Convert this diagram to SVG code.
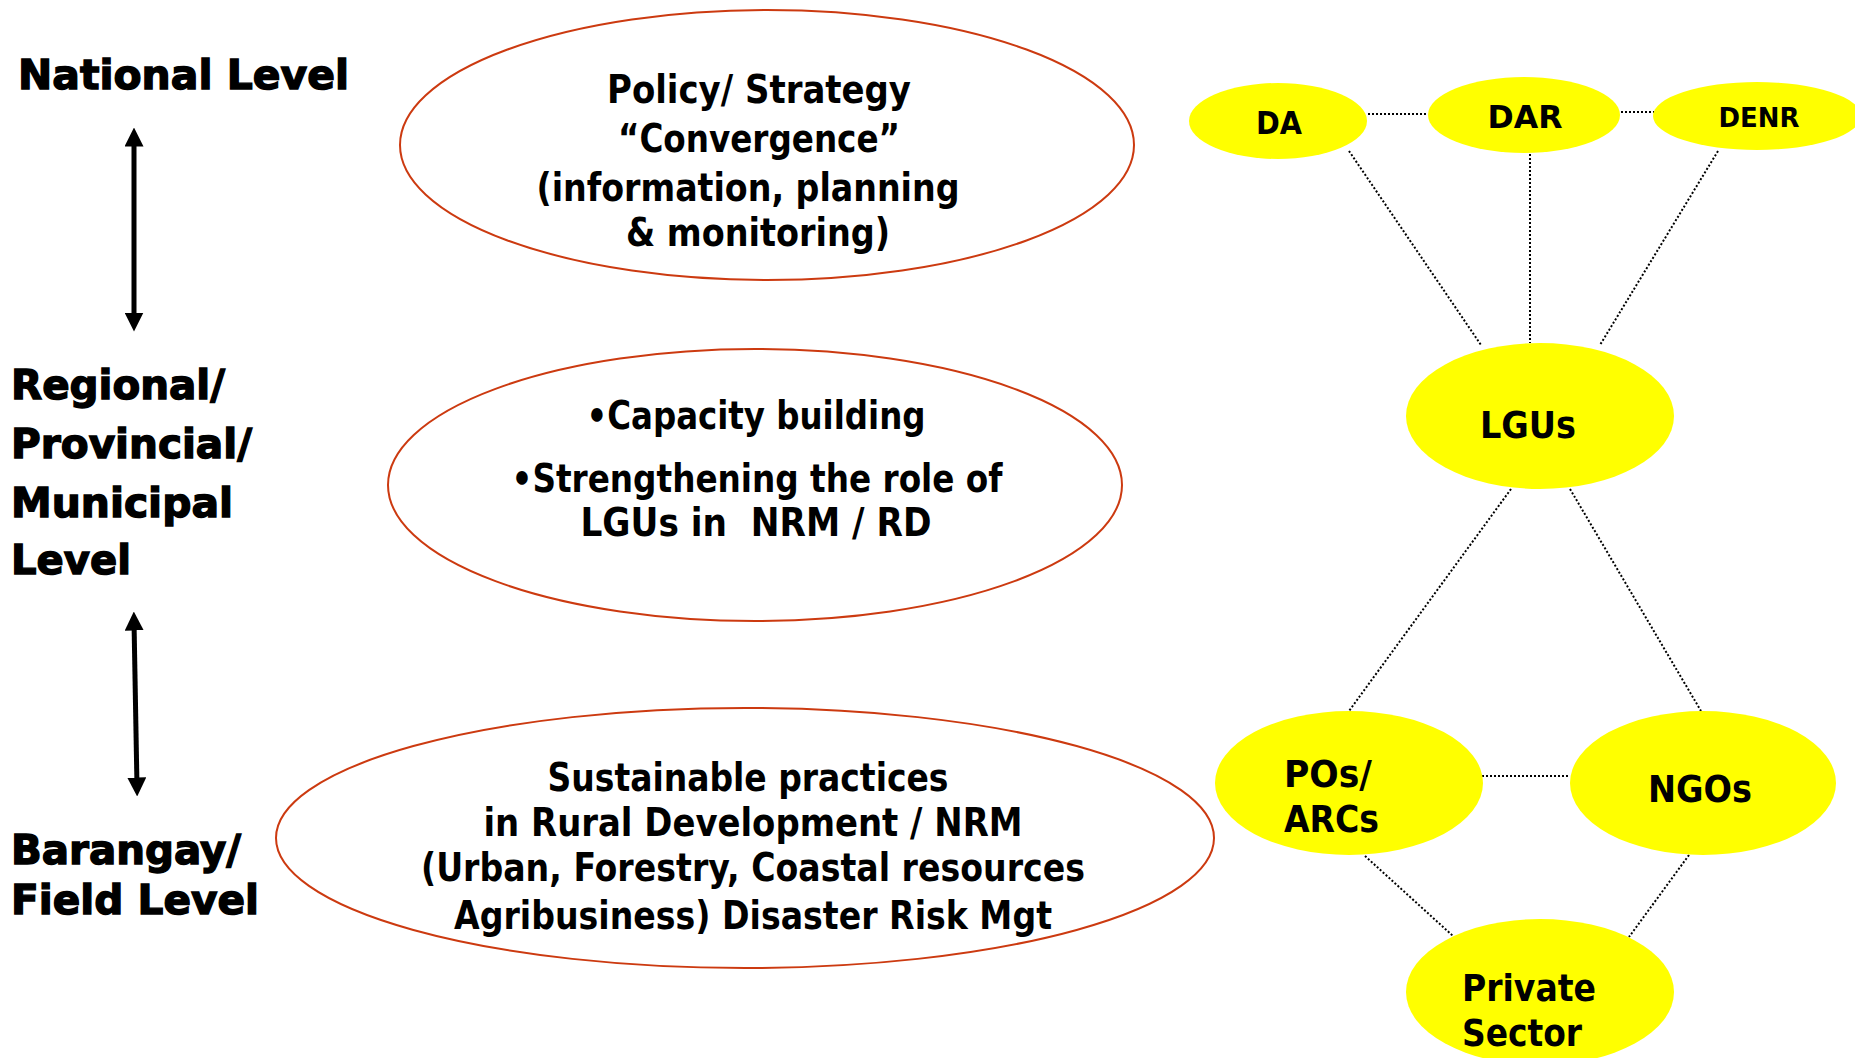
<svg xmlns="http://www.w3.org/2000/svg" width="1855" height="1058" viewBox="0 0 1855 1058">
<style>
.lvl{font-family:"DejaVu Sans","Liberation Sans",sans-serif;font-weight:bold;font-size:41px;fill:#000;stroke:#000;stroke-width:1.4}
.et{font-family:"DejaVu Sans Condensed","DejaVu Sans",sans-serif;font-weight:bold;font-size:39px;fill:#000;text-anchor:middle}
.nt{font-family:"DejaVu Sans Condensed","DejaVu Sans",sans-serif;font-weight:bold;fill:#000}
.red{fill:#fff;stroke:#CC3A10;stroke-width:2}
.yel{fill:#FFFF00;stroke:none}
.dot{stroke:#000;stroke-width:2;stroke-dasharray:2 2;fill:none}
.arr{stroke:#000;stroke-width:5;fill:none}
</style>
<defs>
<marker id="ah" viewBox="0 0 10 10" refX="5" refY="5" markerWidth="3.8" markerHeight="3.8" orient="auto-start-reverse" markerUnits="strokeWidth">
<path d="M0,0 L10,5 L0,10 Z" fill="#000"/>
</marker>
</defs>
<rect width="1855" height="1058" fill="#fff"/>

<g id="levels">
<text class="lvl" x="18" y="89" textLength="331" lengthAdjust="spacingAndGlyphs">National Level</text>
<text class="lvl" x="11" y="399" textLength="214" lengthAdjust="spacingAndGlyphs">Regional/</text>
<text class="lvl" x="11" y="458" textLength="241" lengthAdjust="spacingAndGlyphs">Provincial/</text>
<text class="lvl" x="11" y="517" textLength="222" lengthAdjust="spacingAndGlyphs">Municipal</text>
<text class="lvl" x="11" y="574" textLength="120" lengthAdjust="spacingAndGlyphs">Level</text>
<text class="lvl" x="11" y="864" textLength="230" lengthAdjust="spacingAndGlyphs">Barangay/</text>
<text class="lvl" x="11" y="914" textLength="248" lengthAdjust="spacingAndGlyphs">Field Level</text>
</g>

<g id="level-arrows">
<line class="arr" x1="134" y1="137" x2="134" y2="322" marker-start="url(#ah)" marker-end="url(#ah)"/>
<line class="arr" x1="134" y1="621" x2="137" y2="787" marker-start="url(#ah)" marker-end="url(#ah)"/>
</g>

<g id="national">
<ellipse class="red" cx="767" cy="145" rx="367" ry="135"/>
<text class="et" x="759" y="103" textLength="304" lengthAdjust="spacingAndGlyphs">Policy/ Strategy</text>
<text class="et" x="759" y="152" textLength="282" lengthAdjust="spacingAndGlyphs">“Convergence”</text>
<text class="et" x="748" y="201" textLength="423" lengthAdjust="spacingAndGlyphs">(information, planning</text>
<text class="et" x="758" y="246" textLength="264" lengthAdjust="spacingAndGlyphs">&amp; monitoring)</text>
</g>

<g id="regional">
<ellipse class="red" cx="755" cy="485" rx="367" ry="136"/>
<text class="et" x="756" y="429" textLength="339" lengthAdjust="spacingAndGlyphs">•Capacity building</text>
<text class="et" x="757" y="492" textLength="491" lengthAdjust="spacingAndGlyphs">•Strengthening the role of</text>
<text class="et" x="756" y="536" textLength="351" lengthAdjust="spacingAndGlyphs" xml:space="preserve">LGUs in  NRM / RD</text>
</g>

<g id="field">
<ellipse class="red" cx="745" cy="838" rx="469" ry="130"/>
<text class="et" x="748" y="791" textLength="401" lengthAdjust="spacingAndGlyphs">Sustainable practices</text>
<text class="et" x="753" y="836" textLength="539" lengthAdjust="spacingAndGlyphs">in Rural Development / NRM</text>
<text class="et" x="753" y="881" textLength="664" lengthAdjust="spacingAndGlyphs">(Urban, Forestry, Coastal resources</text>
<text class="et" x="753" y="929" textLength="598" lengthAdjust="spacingAndGlyphs">Agribusiness) Disaster Risk Mgt</text>
</g>

<g id="connectors">
<line class="dot" x1="1368" y1="114" x2="1428" y2="114"/>
<line class="dot" x1="1621" y1="112" x2="1654" y2="112"/>
<line class="dot" x1="1349" y1="151" x2="1481" y2="345"/>
<line class="dot" x1="1530" y1="154" x2="1530" y2="343"/>
<line class="dot" x1="1718" y1="151" x2="1600" y2="345"/>
<line class="dot" x1="1511" y1="489" x2="1349" y2="711"/>
<line class="dot" x1="1570" y1="489" x2="1701" y2="711"/>
<line class="dot" x1="1482" y1="776" x2="1570" y2="776"/>
<line class="dot" x1="1365" y1="856" x2="1453" y2="936"/>
<line class="dot" x1="1689" y1="855" x2="1629" y2="937"/>
</g>

<g id="DA">
<ellipse class="yel" cx="1278" cy="121" rx="89" ry="38"/>
<text class="nt" x="1279" y="134" font-size="32" text-anchor="middle" textLength="46" lengthAdjust="spacingAndGlyphs">DA</text>
</g>
<g id="DAR">
<ellipse class="yel" cx="1524" cy="115" rx="96" ry="38"/>
<text class="nt" x="1525" y="128" font-size="32" text-anchor="middle" textLength="75" lengthAdjust="spacingAndGlyphs">DAR</text>
</g>
<g id="DENR">
<ellipse class="yel" cx="1757" cy="116" rx="104" ry="34"/>
<text class="nt" x="1759" y="127" font-size="27" text-anchor="middle" textLength="81" lengthAdjust="spacingAndGlyphs">DENR</text>
</g>
<g id="LGUs">
<ellipse class="yel" cx="1540" cy="416" rx="134" ry="73"/>
<text class="nt" x="1528" y="438" font-size="38" text-anchor="middle" textLength="96" lengthAdjust="spacingAndGlyphs">LGUs</text>
</g>
<g id="POs">
<ellipse class="yel" cx="1349" cy="783" rx="134" ry="72"/>
<text class="nt" x="1284" y="787" font-size="38" textLength="88" lengthAdjust="spacingAndGlyphs">POs/</text>
<text class="nt" x="1284" y="832" font-size="38" textLength="95" lengthAdjust="spacingAndGlyphs">ARCs</text>
</g>
<g id="NGOs">
<ellipse class="yel" cx="1703" cy="783" rx="133" ry="72"/>
<text class="nt" x="1700" y="802" font-size="38" text-anchor="middle" textLength="104" lengthAdjust="spacingAndGlyphs">NGOs</text>
</g>
<g id="Private">
<ellipse class="yel" cx="1540" cy="992" rx="134" ry="73"/>
<text class="nt" x="1462" y="1001" font-size="38" textLength="134" lengthAdjust="spacingAndGlyphs">Private</text>
<text class="nt" x="1462" y="1046" font-size="38" textLength="120" lengthAdjust="spacingAndGlyphs">Sector</text>
</g>
</svg>
